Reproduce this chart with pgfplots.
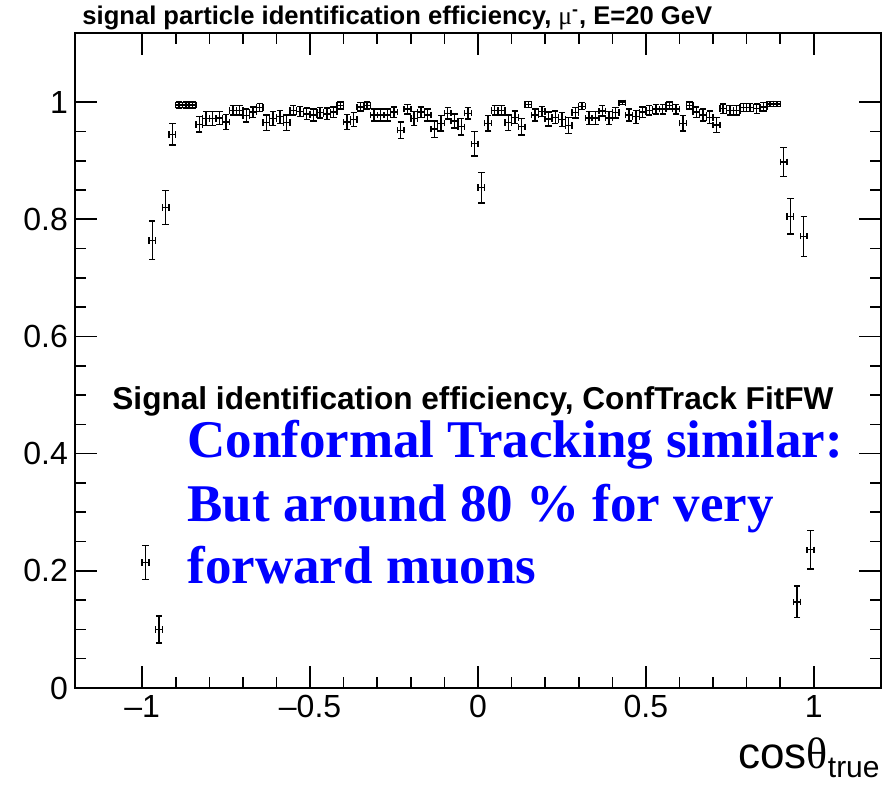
\documentclass[border=0pt]{standalone}
\usepackage{pgfplots}
\pgfplotsset{compat=1.18}
\usepackage{pgfplotstable}
\usepackage{fontspec}
\setmainfont{Liberation Sans}
\newfontfamily\seriffont{Liberation Serif}
\definecolor{rootblue}{RGB}{0,0,255}

\pgfplotstableread{
x y ex ey
-0.99 0.214 0.01 0.029
-0.97 0.764 0.01 0.033
-0.95 0.100 0.01 0.023
-0.93 0.820 0.01 0.029
-0.91 0.945 0.01 0.018
-0.89 0.995 0.01 0.005
-0.87 0.995 0.01 0.005
-0.85 0.995 0.01 0.005
-0.83 0.962 0.01 0.013
-0.81 0.972 0.01 0.012
-0.79 0.972 0.01 0.012
-0.77 0.973 0.01 0.011
-0.75 0.966 0.01 0.013
-0.73 0.986 0.01 0.008
-0.71 0.986 0.01 0.008
-0.69 0.977 0.01 0.011
-0.67 0.983 0.01 0.009
-0.65 0.991 0.01 0.007
-0.63 0.965 0.01 0.013
-0.61 0.972 0.01 0.012
-0.59 0.975 0.01 0.011
-0.57 0.965 0.01 0.013
-0.55 0.986 0.01 0.008
-0.53 0.984 0.01 0.009
-0.51 0.980 0.01 0.010
-0.49 0.978 0.01 0.010
-0.47 0.982 0.01 0.009
-0.45 0.980 0.01 0.010
-0.43 0.983 0.01 0.009
-0.41 0.994 0.01 0.006
-0.39 0.966 0.01 0.013
-0.37 0.970 0.01 0.012
-0.35 0.992 0.01 0.007
-0.33 0.994 0.01 0.006
-0.31 0.978 0.01 0.010
-0.29 0.978 0.01 0.010
-0.27 0.978 0.01 0.010
-0.25 0.983 0.01 0.009
-0.23 0.952 0.01 0.014
-0.21 0.988 0.01 0.008
-0.19 0.972 0.01 0.012
-0.17 0.983 0.01 0.009
-0.15 0.978 0.01 0.010
-0.13 0.954 0.01 0.014
-0.11 0.964 0.01 0.013
-0.09 0.981 0.01 0.010
-0.07 0.968 0.01 0.012
-0.05 0.958 0.01 0.014
-0.03 0.981 0.01 0.010
-0.01 0.929 0.01 0.021
0.01 0.854 0.01 0.026
0.03 0.964 0.01 0.013
0.05 0.986 0.01 0.008
0.07 0.986 0.01 0.008
0.09 0.965 0.01 0.013
0.11 0.974 0.01 0.011
0.13 0.958 0.01 0.014
0.15 0.996 0.01 0.005
0.17 0.978 0.01 0.010
0.19 0.984 0.01 0.009
0.21 0.971 0.01 0.012
0.23 0.974 0.01 0.011
0.25 0.970 0.01 0.012
0.27 0.960 0.01 0.014
0.29 0.982 0.01 0.009
0.31 0.993 0.01 0.006
0.33 0.973 0.01 0.011
0.35 0.973 0.01 0.011
0.37 0.985 0.01 0.009
0.39 0.973 0.01 0.011
0.41 0.982 0.01 0.009
0.43 0.999 0.01 0.003
0.45 0.978 0.01 0.010
0.47 0.975 0.01 0.011
0.49 0.983 0.01 0.009
0.51 0.986 0.01 0.008
0.53 0.988 0.01 0.008
0.55 0.988 0.01 0.008
0.57 0.994 0.01 0.006
0.59 0.988 0.01 0.008
0.61 0.964 0.01 0.013
0.63 0.994 0.01 0.006
0.65 0.983 0.01 0.009
0.67 0.978 0.01 0.010
0.69 0.974 0.01 0.011
0.71 0.961 0.01 0.013
0.73 0.989 0.01 0.008
0.75 0.986 0.01 0.008
0.77 0.986 0.01 0.008
0.79 0.991 0.01 0.007
0.81 0.991 0.01 0.007
0.83 0.989 0.01 0.008
0.85 0.992 0.01 0.007
0.87 0.997 0.01 0.004
0.89 0.997 0.01 0.004
0.91 0.898 0.01 0.025
0.93 0.805 0.01 0.030
0.95 0.147 0.01 0.027
0.97 0.771 0.01 0.034
0.99 0.236 0.01 0.033
}\effdata

\begin{document}
\begin{tikzpicture}
\path[use as bounding box] (0,0) rectangle (444.5pt,395.5pt);
\begin{axis}[
  at={(37.5pt,51.5pt)}, anchor=south west,
  scale only axis, width=403pt, height=327.5pt,
  xmin=-1.2, xmax=1.2, ymin=0, ymax=1.118,
  axis line style={line width=0.8pt},
  tick style={line width=0.8pt, black},
  tick align=inside,
  xtick pos=both, ytick pos=both,
  xtick={-1,-0.5,0,0.5,1},
  xticklabels={--1,--0.5,0,0.5,1},
  minor x tick num=4,
  ytick={0,0.2,0.4,0.6,0.8,1},
  yticklabels={0,0.2,0.4,0.6,0.8,1},
  minor y tick num=3,
  major tick length=11pt, minor tick length=5.5pt,
  ticklabel style={font=\fontsize{16}{19}\selectfont},
  clip=false,
]
\addplot[draw=none, mark=none,
  error bars/.cd, x dir=both, x explicit, y dir=both, y explicit,
  error bar style={draw=black, line width=0.7pt},
  error mark=-,
  error mark options={rotate=90, draw=black, mark size=1.6pt, line width=0.7pt}]
  table[x=x, y=y, x error=ex, y error=ey] {\effdata};
\end{axis}
\node[anchor=west, inner sep=0pt, font=\bfseries\fontsize{12.8}{15}\selectfont] at (41pt,386.5pt)
  {signal particle identification efficiency, {\seriffont\mdseries μ}\textsuperscript{-}, E=20 GeV};
\node[anchor=base west, inner sep=0pt, font=\bfseries\fontsize{15.8}{19}\selectfont] at (56pt,190.5pt)
  {Signal identification efficiency, ConfTrack FitFW};
\node[anchor=base west, inner sep=0pt, text=rootblue, font=\seriffont\bfseries\fontsize{26.5}{31}\selectfont] at (93.5pt,166.5pt)
  {Conformal Tracking similar:};
\node[anchor=base west, inner sep=0pt, text=rootblue, font=\seriffont\bfseries\fontsize{26.5}{31}\selectfont] at (93.5pt,134.5pt)
  {But around 80 \% for very};
\node[anchor=base west, inner sep=0pt, text=rootblue, font=\seriffont\bfseries\fontsize{26.5}{31}\selectfont] at (93.5pt,103.5pt)
  {forward muons};
\node[anchor=base east, inner sep=0pt, font=\fontsize{22}{26}\selectfont] at (440pt,11pt)
  {cos{\seriffont θ}\raisebox{-0.35ex}{\fontsize{15}{17}\selectfont true}};
\end{tikzpicture}
\end{document}
